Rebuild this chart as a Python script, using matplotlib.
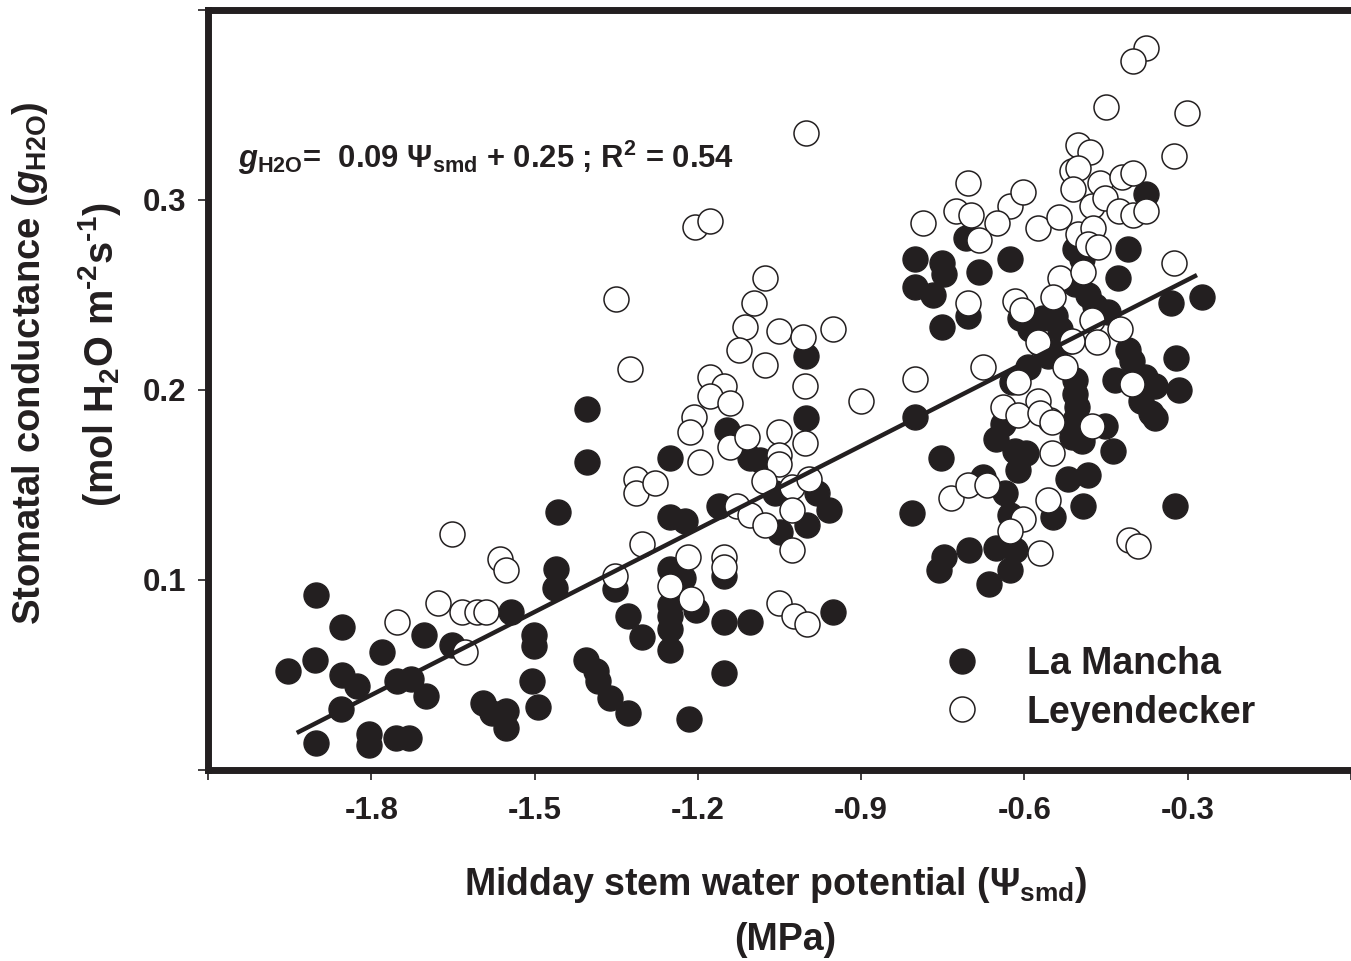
import matplotlib
matplotlib.use("Agg")
import matplotlib.pyplot as plt
from matplotlib.lines import Line2D

# La Mancha (filled) - midday stem water potential (MPa) / stomatal conductance
lm_x = [-1.953, -1.902, -1.904, -1.902, -1.853, -1.853, -1.827, -1.855, -1.804, -1.804,
        -1.780, -1.753, -1.727, -1.700, -1.754, -1.731, -1.703, -1.652, -1.543, -1.502,
        -1.502, -1.504, -1.493, -1.594, -1.579, -1.553, -1.552, -1.457, -1.460, -1.462,
        -1.404, -1.404, -1.406, -1.387, -1.384, -1.362, -1.329, -1.353, -1.329, -1.302,
        -1.252, -1.252, -1.223, -1.252, -1.227, -1.252, -1.252, -1.252, -1.252, -1.203,
        -1.152, -1.104, -1.152, -1.216, -1.152, -1.161, -1.146, -1.104, -1.086, -1.059,
        -0.982, -0.960, -1.000, -1.050, -1.002, -1.002, -0.951,
        -0.801, -0.801, -0.752, -0.748, -0.801, -0.768, -0.684, -0.626, -0.410, -0.376,
        -0.429, -0.752, -0.703, -0.708, -0.330, -0.273, -0.507, -0.494, -0.507, -0.483,
        -0.471, -0.447, -0.608, -0.589, -0.566, -0.544, -0.535, -0.571, -0.544, -0.516,
        -0.557, -0.593, -0.622, -0.410, -0.403, -0.434, -0.379, -0.361, -0.321, -0.316,
        -0.385, -0.367, -0.507, -0.507, -0.504, -0.507,
        -0.754, -0.807, -0.653, -0.617, -0.598, -0.611, -0.639, -0.677, -0.635, -0.513,
        -0.494, -0.438, -0.452, -0.520, -0.483, -0.493, -0.547, -0.626, -0.324, -0.361,
        -0.748, -0.757, -0.702, -0.653, -0.617, -0.626, -0.666]
lm_y = [0.052, 0.092, 0.058, 0.014, 0.075, 0.050, 0.044, 0.032, 0.019, 0.013,
        0.062, 0.047, 0.048, 0.039, 0.017, 0.017, 0.071, 0.066, 0.083, 0.071,
        0.065, 0.047, 0.033, 0.035, 0.030, 0.031, 0.022, 0.136, 0.106, 0.096,
        0.190, 0.162, 0.058, 0.052, 0.047, 0.038, 0.030, 0.095, 0.081, 0.070,
        0.164, 0.133, 0.131, 0.106, 0.101, 0.087, 0.081, 0.074, 0.063, 0.084,
        0.078, 0.078, 0.051, 0.027, 0.102, 0.139, 0.179, 0.164, 0.163, 0.146,
        0.146, 0.137, 0.129, 0.125, 0.185, 0.218, 0.083,
        0.186, 0.269, 0.267, 0.261, 0.254, 0.250, 0.262, 0.269, 0.274, 0.303,
        0.259, 0.233, 0.239, 0.280, 0.246, 0.249, 0.274, 0.269, 0.256, 0.250,
        0.244, 0.241, 0.238, 0.232, 0.238, 0.239, 0.232, 0.224, 0.220, 0.226,
        0.218, 0.212, 0.204, 0.221, 0.215, 0.205, 0.207, 0.202, 0.217, 0.200,
        0.194, 0.188, 0.205, 0.198, 0.191, 0.184,
        0.164, 0.135, 0.174, 0.168, 0.167, 0.158, 0.182, 0.154, 0.146, 0.175,
        0.173, 0.168, 0.181, 0.153, 0.155, 0.139, 0.133, 0.134, 0.139, 0.185,
        0.112, 0.105, 0.116, 0.117, 0.116, 0.105, 0.098]

# Leyendecker (open)
ly_x = [-1.652, -1.563, -1.552, -1.753, -1.678, -1.634, -1.606, -1.590, -1.627,
        -1.325, -1.351, -1.177, -1.152, -1.177, -1.141, -1.077, -1.004, -0.900, -1.207, -1.214,
        -1.051, -1.141, -1.110, -1.004, -1.196, -1.051, -1.051, -1.314, -1.314, -1.278,
        -1.079, -1.028, -0.995, -1.128, -1.104, -1.077, -1.028, -1.028, -1.302, -1.219,
        -1.353, -1.252, -1.212, -1.152, -1.152, -1.051, -1.024, -1.000,
        -1.002, -1.205, -1.177, -1.077, -1.097, -1.113, -1.124, -1.051, -1.007, -0.951,
        -0.376, -0.401, -0.451, -0.301, -0.326, -0.502, -0.480, -0.513, -0.502, -0.511,
        -0.462, -0.421, -0.401, -0.476, -0.452, -0.427, -0.401, -0.376, -0.703, -0.787,
        -0.726, -0.699, -0.626, -0.602, -0.651, -0.575, -0.537, -0.502, -0.474, -0.483,
        -0.465, -0.684, -0.326, -0.703, -0.535, -0.493, -0.547, -0.617, -0.604, -0.476,
        -0.425, -0.467, -0.513, -0.575, -0.677, -0.525, -0.611, -0.801, -0.403, -0.575,
        -0.640, -0.611, -0.553, -0.571, -0.549, -0.476, -0.549, -0.735, -0.703, -0.668,
        -0.556, -0.602, -0.626, -0.571, -0.407, -0.392]
ly_y = [0.124, 0.111, 0.105, 0.078, 0.088, 0.083, 0.083, 0.083, 0.062,
        0.211, 0.248, 0.207, 0.202, 0.197, 0.193, 0.213, 0.202, 0.194, 0.186, 0.178,
        0.178, 0.170, 0.175, 0.172, 0.162, 0.166, 0.161, 0.153, 0.146, 0.151,
        0.152, 0.149, 0.153, 0.139, 0.134, 0.129, 0.137, 0.116, 0.119, 0.112,
        0.102, 0.097, 0.090, 0.112, 0.107, 0.088, 0.081, 0.077,
        0.335, 0.286, 0.289, 0.259, 0.246, 0.233, 0.221, 0.231, 0.228, 0.232,
        0.380, 0.373, 0.349, 0.346, 0.323, 0.329, 0.325, 0.315, 0.317, 0.306,
        0.309, 0.312, 0.314, 0.297, 0.301, 0.294, 0.292, 0.294, 0.309, 0.288,
        0.294, 0.292, 0.297, 0.304, 0.288, 0.285, 0.291, 0.282, 0.285, 0.277,
        0.275, 0.279, 0.267, 0.246, 0.259, 0.262, 0.249, 0.247, 0.242, 0.237,
        0.232, 0.225, 0.226, 0.225, 0.212, 0.212, 0.204, 0.206, 0.203, 0.194,
        0.191, 0.187, 0.184, 0.188, 0.183, 0.181, 0.167, 0.143, 0.150, 0.150,
        0.142, 0.132, 0.126, 0.114, 0.121, 0.118]

# regression line end points
fit_x = [-1.937, -0.283]
fit_y = [0.0195, 0.2605]

x_ticks = [-2.1, -1.8, -1.5, -1.2, -0.9, -0.6, -0.3, 0.0]
x_labels = ["", "-1.8", "-1.5", "-1.2", "-0.9", "-0.6", "-0.3", ""]
y_ticks = [0.0, 0.1, 0.2, 0.3, 0.4]
y_labels = ["", "0.1", "0.2", "0.3", ""]

ink = "#231f20"
plt.rcParams['font.family'] = ['Liberation Sans', 'DejaVu Sans']
plt.rcParams['font.weight'] = 'bold'
plt.rcParams['mathtext.fontset'] = 'custom'
plt.rcParams['mathtext.rm'] = 'Liberation Sans:bold'
plt.rcParams['mathtext.bf'] = 'Liberation Sans:bold'
plt.rcParams['mathtext.it'] = 'Liberation Sans:italic:bold'
plt.rcParams['text.color'] = ink

fig = plt.figure(figsize=(13.51, 9.61), dpi=100)
ax = fig.add_axes([0.154, 0.1988, 0.846, 0.7908])

ax.scatter(lm_x, lm_y, s=324, facecolor=ink, edgecolor=ink, linewidth=1.0, zorder=3)
ax.scatter(ly_x, ly_y, s=324, facecolor="white", edgecolor=ink, linewidth=1.1, zorder=4)
ax.plot(fit_x, fit_y, color=ink, linewidth=3.2, zorder=5, solid_capstyle='butt')

ax.set_xlim(-2.1, 0.0)
ax.set_ylim(0.0, 0.4)
ax.set_xticks(x_ticks)
ax.set_xticklabels(x_labels)
ax.set_yticks(y_ticks)
ax.set_yticklabels(y_labels)
ax.tick_params(axis='both', direction='out', length=7, width=1.2, color=ink,
               labelsize=22.5, labelcolor=ink)
ax.tick_params(axis='x', pad=12)
ax.tick_params(axis='y', pad=9)
for side in ['left', 'bottom', 'top']:
    ax.spines[side].set_linewidth(5)
    ax.spines[side].set_color(ink)
ax.spines['right'].set_visible(False)

ax.text(0.026, 0.806, r'$g_{\mathrm{H2O}}$=  0.09 $\Psi_{\mathrm{smd}}$ + 0.25 ; R$^{\mathrm{2}}$ = 0.54',
        transform=ax.transAxes, fontsize=22.3, fontweight='bold', va='center', ha='left')

handles = [Line2D([], [], linestyle='none', marker='o', markersize=18,
                  markerfacecolor=ink, markeredgecolor=ink),
           Line2D([], [], linestyle='none', marker='o', markersize=18,
                  markerfacecolor='white', markeredgecolor=ink, markeredgewidth=1.1)]
ax.legend(handles, ['La Mancha', 'Leyendecker'], loc='upper left',
          bbox_to_anchor=(0.698, 0.328), bbox_transform=fig.transFigure,
          frameon=False, fontsize=27, handlelength=1.0, handletextpad=1.24,
          borderpad=0, borderaxespad=0, labelspacing=0.34)

fig.text(0.574, 0.079, r'Midday stem water potential ($\Psi_{\mathrm{smd}}$)',
         fontsize=27, fontweight='bold', ha='center', va='center')
fig.text(0.581, 0.022, '(MPa)', fontsize=27, fontweight='bold', ha='center', va='center')
fig.text(0.022, 0.622, r'Stomatal conductance ($g_{\mathrm{H2O}}$)', rotation=90,
         fontsize=27.5, fontweight='bold', ha='center', va='center')
fig.text(0.074, 0.631, r'(mol H$_{\mathrm{2}}$O m$^{\text{-2}}$s$^{\text{-1}}$)', rotation=90,
         fontsize=28.5, fontweight='bold', ha='center', va='center')

plt.savefig("out.png", dpi=100)
